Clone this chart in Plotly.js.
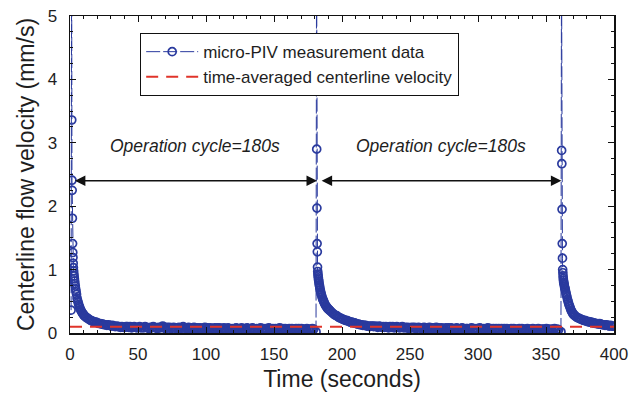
<!DOCTYPE html>
<html>
<head>
<meta charset="utf-8">
<script src="https://cdn.plot.ly/plotly-3.0.1.min.js"></script>
<style>html,body{margin:0;padding:0;background:#fff;}#chart{width:632px;height:395px;}</style>
</head>
<body>
<div id="chart"></div>
<script>
// Time (s) of each valve-opening spike
const spikeTimes = [1.2, 181.3, 361.4];
// Sample times relative to each spike (s)
const relTime = [-0.4, 0, 0.1, 0.25, 0.4, 0.55, 0.7, 0.85, 1.0, 1.15, 1.3, 1.45, 1.6, 1.8, 2.0, 2.2, 2.4, 2.7, 3.0, 3.3, 3.6, 4.0, 4.4, 4.8, 5.2, 5.6, 6.0, 6.5, 7, 7.5, 8, 8.5, 9, 9.5, 10,
  11, 12, 13, 14, 15, 16, 17, 18, 19, 20, 21, 22, 23, 24, 25, 26, 27, 28, 29, 30, 31, 32, 33, 34, 35, 36, 37, 38, 39, 40,
  41, 42, 43, 44, 45, 46, 47, 48, 49, 50, 51, 52, 53, 54, 55, 56, 57, 58, 59, 60,
  61, 62, 63, 64, 65, 66, 67, 68, 69, 70, 71, 72, 73, 74, 75, 76, 77, 78, 79, 80,
  81, 82, 83, 84, 85, 86, 87, 88, 89, 90, 91, 92, 93, 94, 95, 96, 97, 98, 99, 100,
  101, 102, 103, 104, 105, 106, 107, 108, 109, 110, 111, 112, 113, 114, 115, 116, 117, 118, 119, 120,
  121, 122, 123, 124, 125, 126, 127, 128, 129, 130, 131, 132, 133, 134, 135, 136, 137, 138, 139, 140,
  141, 142, 143, 144, 145, 146, 147, 148, 149, 150, 151, 152, 153, 154, 155, 156, 157, 158, 159, 160,
  161, 162, 163, 164, 165, 166, 167, 168, 169, 170, 171, 172, 173, 174, 175, 176, 177, 178];

// Measured centerline velocity (mm/s), cycle by cycle
const cycle1 = [0.36, 6, 3.36, 2.41, 2.25, 1.81, 1.41, 1.27, 1.19, 1.10, 1.03, 0.98, 0.94, 0.9, 0.86, 0.82, 0.78, 0.74, 0.69, 0.65, 0.61, 0.55, 0.51, 0.48, 0.45, 0.42, 0.4, 0.37, 0.35, 0.33, 0.31, 0.3, 0.28, 0.27, 0.26,
  0.24, 0.23, 0.21, 0.2, 0.19, 0.18, 0.17, 0.17, 0.16, 0.15, 0.15, 0.14, 0.14, 0.13, 0.13, 0.12, 0.13, 0.12, 0.11, 0.12, 0.11, 0.1, 0.11, 0.1, 0.1, 0.09, 0.1, 0.09, 0.09, 0.1,
  0.1, 0.09, 0.1, 0.08, 0.09, 0.1, 0.09, 0.08, 0.09, 0.1,
  0.08, 0.09, 0.08, 0.1, 0.09, 0.08, 0.07, 0.09, 0.08, 0.1,
  0.09, 0.08, 0.07, 0.09, 0.08, 0.09, 0.11, 0.08, 0.07, 0.09,
  0.08, 0.09, 0.07, 0.08, 0.09, 0.08, 0.07, 0.08, 0.09, 0.07,
  0.08, 0.1, 0.08, 0.07, 0.08, 0.09, 0.07, 0.08, 0.07, 0.09,
  0.08, 0.07, 0.08, 0.07, 0.08, 0.06, 0.07, 0.09, 0.07, 0.08,
  0.07, 0.08, 0.07, 0.06, 0.08, 0.07, 0.08, 0.07, 0.08, 0.06,
  0.07, 0.08, 0.07, 0.06, 0.08, 0.07, 0.06, 0.07, 0.06, 0.07,
  0.08, 0.07, 0.06, 0.07, 0.08, 0.06, 0.07, 0.06, 0.08, 0.07,
  0.06, 0.07, 0.08, 0.07, 0.06, 0.07, 0.06, 0.07, 0.08, 0.06,
  0.07, 0.06, 0.07, 0.06, 0.08, 0.07, 0.06, 0.07, 0.06, 0.07,
  0.06, 0.07, 0.08, 0.06, 0.07, 0.06, 0.07, 0.06, 0.05, 0.07,
  0.06, 0.07, 0.06, 0.05, 0.07, 0.06, 0.07, 0.06, 0.07, 0.06,
  0.05, 0.06, 0.07, 0.06, 0.05, 0.06, 0.07, 0.06];
const cycle2 = [0.02, 6, 2.9, 1.97, 1.41, 1.28, 1.04, 0.97, 0.93, 0.9, 0.87, 0.84, 0.82, 0.79, 0.76, 0.74, 0.71, 0.68, 0.65, 0.62, 0.6, 0.57, 0.54, 0.52, 0.5, 0.48, 0.46, 0.44, 0.42, 0.41, 0.39, 0.38, 0.37, 0.36, 0.35,
  0.33, 0.31, 0.29, 0.28, 0.27, 0.25, 0.24, 0.23, 0.22, 0.21, 0.2, 0.2, 0.19, 0.18, 0.17, 0.17, 0.16, 0.16, 0.15, 0.14, 0.14, 0.13, 0.13, 0.12, 0.12, 0.12, 0.11, 0.11, 0.1, 0.11,
  0.11, 0.1, 0.11, 0.1, 0.09, 0.11, 0.1, 0.09, 0.1, 0.09,
  0.1, 0.09, 0.08, 0.1, 0.09, 0.1, 0.08, 0.09, 0.1, 0.09,
  0.08, 0.09, 0.1, 0.08, 0.09, 0.08, 0.09, 0.07, 0.08, 0.09,
  0.08, 0.09, 0.07, 0.08, 0.09, 0.08, 0.07, 0.08, 0.09, 0.08,
  0.07, 0.08, 0.09, 0.07, 0.08, 0.07, 0.08, 0.09, 0.07, 0.08,
  0.07, 0.08, 0.07, 0.06, 0.08, 0.07, 0.08, 0.07, 0.08, 0.07,
  0.06, 0.07, 0.08, 0.07, 0.06, 0.07, 0.08, 0.07, 0.06, 0.07,
  0.07, 0.06, 0.07, 0.08, 0.06, 0.07, 0.06, 0.07, 0.06, 0.08,
  0.07, 0.06, 0.07, 0.06, 0.07, 0.08, 0.06, 0.07, 0.06, 0.07,
  0.06, 0.07, 0.06, 0.07, 0.05, 0.07, 0.06, 0.07, 0.06, 0.07,
  0.06, 0.05, 0.07, 0.06, 0.07, 0.06, 0.05, 0.06, 0.07, 0.06,
  0.07, 0.06, 0.05, 0.06, 0.07, 0.06, 0.05, 0.06, 0.07, 0.06,
  0.05, 0.06, 0.07, 0.06, 0.05, 0.06, 0.06, 0.05, 0.07, 0.06,
  0.05, 0.06, 0.05, 0.06, 0.07, 0.05, 0.06, 0.05];
const cycle3 = [0.02, 6, 2.88, 2.67, 1.95, 1.41, 1.18, 1.0, 0.95, 0.9, 0.86, 0.83, 0.8, 0.78, 0.76, 0.73, 0.71, 0.69, 0.66, 0.63, 0.6, 0.57, 0.53, 0.5, 0.47, 0.44, 0.42, 0.39, 0.36, 0.34, 0.32, 0.3, 0.29, 0.28, 0.27,
  0.25, 0.24, 0.23, 0.22, 0.21, 0.2, 0.2, 0.19, 0.18, 0.18, 0.17, 0.17, 0.16, 0.16, 0.15, 0.15, 0.14, 0.15, 0.14, 0.13, 0.13, 0.12, 0.13, 0.12, 0.11, 0.12, 0.11, 0.11];
const cycles = [cycle1, cycle2, cycle3];

// Time-averaged centerline velocity (mm/s)
const avgVelocity = 0.1;
const avgTimes = [0, 400];

// Operation-cycle annotations
const cycleLabel = 'Operation cycle=180s';
const cycleSpans = [[2.5, 181.6], [183.9, 361.3]];
const arrowLevel = 2.4;
const labelLevel = 2.95;

const xTickVals = [0, 50, 100, 150, 200, 250, 300, 350, 400];
const yTickVals = [0, 1, 2, 3, 4, 5];

const tx = [], vy = [];
cycles.forEach((vals, c) => {
  vals.forEach((v, i) => { tx.push(spikeTimes[c] + relTime[i]); vy.push(v); });
});

const blue = '#2A3A9E';
const red = '#E0342A';
const font = 'Liberation Sans, Arial, Helvetica, sans-serif';
const ink = '#1e1e1e';

const traces = [
  {
    x: tx, y: vy, type: 'scatter', mode: 'lines+markers',
    name: 'micro-PIV measurement data',
    line: {color: blue, width: 1, dash: '14px,3px'},
    marker: {symbol: 'circle-open', size: 8, color: blue, line: {width: 1.7, color: blue}},
    cliponaxis: true
  },
  {
    x: avgTimes, y: [avgVelocity, avgVelocity], type: 'scatter', mode: 'lines',
    name: 'time-averaged centerline velocity',
    line: {color: red, width: 2, dash: '12px,8px'}
  }
];

const annotations = [];
cycleSpans.forEach(s => {
  annotations.push({
    x: s[1], y: arrowLevel, ax: s[0], ay: arrowLevel, xref: 'x', yref: 'y', axref: 'x', ayref: 'y',
    showarrow: true, arrowside: 'end+start', arrowhead: 2, arrowsize: 1.4, arrowwidth: 1.5,
    arrowcolor: '#111', standoff: 0, startstandoff: 0, text: ''
  });
  annotations.push({
    x: (s[0] + s[1]) / 2, y: labelLevel, xref: 'x', yref: 'y', showarrow: false,
    text: '<i>' + cycleLabel + '</i>', font: {family: font, size: 17.5, color: ink}
  });
});

const axisCommon = {
  showline: true, linecolor: '#111', linewidth: 1.5, mirror: 'allticks',
  ticks: 'inside', ticklen: 6, tickwidth: 1, tickcolor: '#111',
  showgrid: false, zeroline: false,
  tickfont: {family: font, size: 17, color: ink}
};

const layout = {
  width: 632, height: 395,
  margin: {l: 70, r: 18, t: 16, b: 62},
  paper_bgcolor: '#fff', plot_bgcolor: '#fff',
  showlegend: true,
  legend: {
    x: 0.129, y: 0.946, xanchor: 'left', yanchor: 'top',
    bgcolor: '#fff', bordercolor: '#111', borderwidth: 1,
    font: {family: font, size: 17, color: ink},
    itemwidth: 52, tracegroupgap: 0
  },
  xaxis: Object.assign({}, axisCommon, {
    range: [0, 400], tickvals: xTickVals, ticklabelstandoff: 5,
    minor: {dtick: 10, ticks: 'inside', ticklen: 3, tickcolor: '#111', showgrid: false},
    title: {text: 'Time (seconds)', font: {family: font, size: 23, color: ink}, standoff: 8}
  }),
  yaxis: Object.assign({}, axisCommon, {
    range: [0, 5], tickvals: yTickVals, ticklabelstandoff: 8,
    minor: {dtick: 0.25, ticks: 'inside', ticklen: 3, tickcolor: '#111', showgrid: false},
    title: {text: 'Centerline flow velocity (mm/s)', font: {family: font, size: 23, color: ink}, standoff: 6}
  }),
  annotations: annotations
};

Plotly.newPlot('chart', traces, layout, {displayModeBar: false, staticPlot: true});
</script>
</body>
</html>
